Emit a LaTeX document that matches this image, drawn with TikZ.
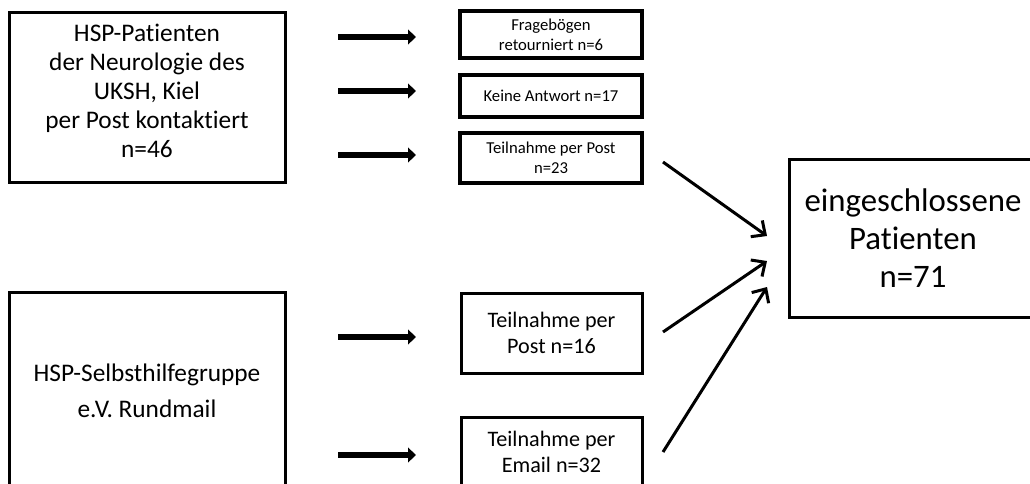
\documentclass[tikz,border=0pt]{standalone}
\usepackage{fontspec}
\setmainfont{Carlito}[Ligatures={NoCommon}]
\usetikzlibrary{arrows.meta}
\begin{document}
\begin{tikzpicture}[x=0.75pt,y=-0.75pt,
  box/.style={draw, line width=2.25pt, align=center, inner sep=0pt},
  smallbox/.style={box, line width=3pt, minimum width=136.5pt},
  midbox/.style={box, minimum width=135.75pt, font=\fontsize{16.6}{20}\selectfont},
  bigfont/.style={font=\fontsize{19}{21.75}\selectfont},
  smallfont/.style={font=\fontsize{12.5}{15}\selectfont},
  thickarrow/.style={line width=4.5pt, -{Triangle[length=6pt,width=11pt]}},
  diagarrow/.style={line width=2.25pt, -{Straight Barb[length=8pt,width=15pt]}}]
\useasboundingbox (0,0) rectangle (1030,483);
\clip (0,0) rectangle (1030,483);

% left boxes
\node[box, minimum width=207pt, minimum height=127.5pt] (A) at (147,97) {};
\node[bigfont, align=center, inner sep=0pt] (Atext) at (147,91)
  {HSP-Patienten\\der Neurologie des\\UKSH, Kiel\\per Post kontaktiert\\n=46};
\node[box, font=\fontsize{19}{27}\selectfont, minimum width=207pt, minimum height=148.5pt] (B) at (147,391)
  {HSP-Selbsthilfegruppe\\e.V. Rundmail};

% small boxes
\node[smallbox, smallfont, minimum height=35.25pt] (F) at (551,34.5) {Fragebögen\\retourniert n=6};
\node[smallbox, smallfont, minimum height=31.5pt] (K) at (551,96) {Keine Antwort n=17};
\node[smallbox, smallfont, minimum height=37.5pt] (T) at (551,158) {Teilnahme per Post\\n=23};

\node[midbox, minimum height=60pt] (P) at (551.5,333) {Teilnahme per\\Post n=16};
\node[midbox, minimum height=52.5pt] (E) at (551.5,452) {Teilnahme per\\Email n=32};

% result box
\node[box, font=\fontsize{24.6}{28.5}\selectfont, minimum width=186pt, minimum height=118.5pt] (C) at (913,238)
  {eingeschlossene\\Patienten\\n=71};

% coordinates for arrows
\coordinate (a1s) at (338,37);  \coordinate (a1e) at (416,37);
\coordinate (a2s) at (338,91);  \coordinate (a2e) at (416,91);
\coordinate (a3s) at (338,155); \coordinate (a3e) at (416,155);
\coordinate (b1s) at (338,337); \coordinate (b1e) at (416,337);
\coordinate (b2s) at (338,455); \coordinate (b2e) at (416,455);

\draw[thickarrow] (a1s) -- (a1e);
\draw[thickarrow] (a2s) -- (a2e);
\draw[thickarrow] (a3s) -- (a3e);
\draw[thickarrow] (b1s) -- (b1e);
\draw[thickarrow] (b2s) -- (b2e);

\coordinate (d1s) at (663,162); \coordinate (d1e) at (767,236);
\coordinate (d2s) at (663,332); \coordinate (d2e) at (767,261);
\coordinate (d3s) at (663,452); \coordinate (d3e) at (767,287);

\draw[diagarrow] (d1s) -- (d1e);
\draw[diagarrow] (d2s) -- (d2e);
\draw[diagarrow] (d3s) -- (d3e);
\end{tikzpicture}
\end{document}
